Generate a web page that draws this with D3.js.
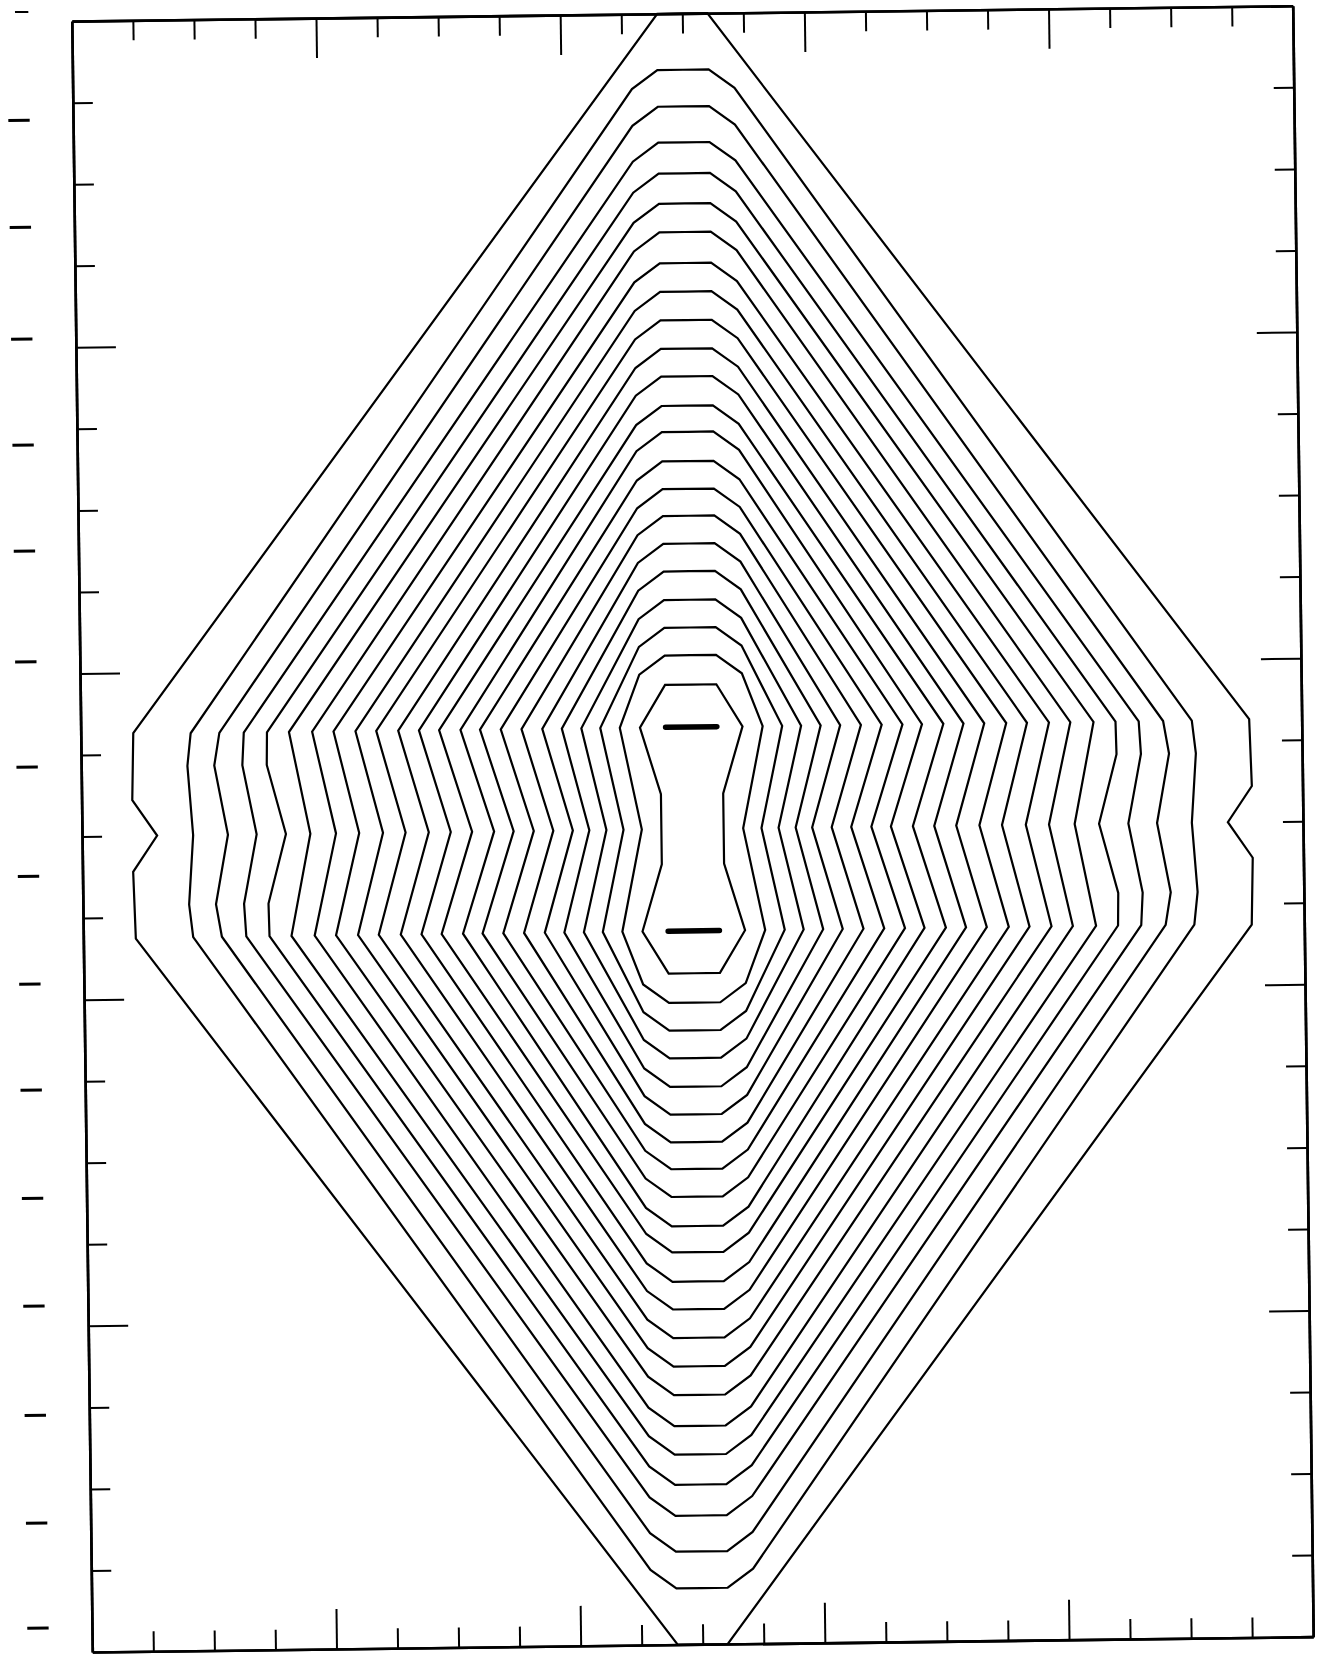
<!DOCTYPE html>
<html><head><meta charset="utf-8">
<script src="https://cdn.jsdelivr.net/npm/d3@7"></script>
<style>html,body{margin:0;padding:0;background:#fff;} svg{display:block;}</style>
</head><body>
<svg id="chart" width="1319" height="1658"></svg>
<script>
// ---- data (upper-right quadrant of each contour, tick units; plot is symmetric) ----
const contour01 = [[0,1.77],[0.42,1.77],[0.84,1.25],[0.51,0.43],[0.51,0]];
const contour02 = [[0,2.13],[0.42,2.13],[0.84,1.90],[1.17,1.25],[0.83,0]];
const contour03 = [[0,2.47],[0.42,2.47],[0.84,2.24],[1.49,1.25],[1.13,0]];
const contour04 = [[0,2.81],[0.42,2.81],[0.84,2.58],[1.80,1.25],[1.41,0]];
const contour05 = [[0,3.16],[0.42,3.16],[0.84,2.93],[2.12,1.25],[1.69,0]];
const contour06 = [[0,3.50],[0.42,3.50],[0.84,3.27],[2.44,1.25],[1.96,0]];
const contour07 = [[0,3.84],[0.42,3.84],[0.84,3.61],[2.78,1.25],[2.28,0]];
const contour08 = [[0,4.17],[0.42,4.17],[0.84,3.94],[3.12,1.25],[2.60,0]];
const contour09 = [[0,4.51],[0.42,4.51],[0.84,4.28],[3.46,1.25],[2.93,0]];
const contour10 = [[0,4.87],[0.42,4.87],[0.84,4.64],[3.78,1.25],[3.25,0]];
const contour11 = [[0,5.19],[0.42,5.19],[0.84,4.96],[4.13,1.25],[3.61,0]];
const contour12 = [[0,5.55],[0.42,5.55],[0.84,5.32],[4.46,1.25],[3.96,0]];
const contour13 = [[0,5.89],[0.42,5.89],[0.84,5.66],[4.80,1.25],[4.32,0]];
const contour14 = [[0,6.24],[0.42,6.24],[0.84,6.01],[5.16,1.25],[4.70,0]];
const contour15 = [[0,6.59],[0.42,6.59],[0.84,6.36],[5.50,1.25],[5.07,0]];
const contour16 = [[0,6.94],[0.42,6.94],[0.84,6.71],[5.86,1.25],[5.46,0]];
const contour17 = [[0,7.32],[0.42,7.32],[0.84,7.09],[6.21,1.25],[5.84,0]];
const contour18 = [[0,7.67],[0.42,7.67],[0.84,7.44],[6.59,1.25],[6.26,0]];
const contour19 = [[0,8.04],[0.42,8.04],[0.84,7.81],[6.95,1.25],[6.96,0.85],[6.66,0]];
const contour20 = [[0,8.42],[0.42,8.42],[0.84,8.19],[7.33,1.25],[7.36,0.85],[7.14,0]];
const contour21 = [[0,8.86],[0.42,8.86],[0.84,8.63],[7.73,1.25],[7.82,0.85],[7.61,0]];
const contour22 = [[0,9.31],[0.42,9.31],[0.84,9.08],[8.20,1.25],[8.26,0.85],[8.18,0]];
const contour23 = [[0,10],[0.41,10],[9.14,1.26],[9.17,0.44],[8.77,0]];
const contours = [contour01,contour02,contour03,contour04,contour05,contour06,contour07,
  contour08,contour09,contour10,contour11,contour12,contour13,contour14,contour15,
  contour16,contour17,contour18,contour19,contour20,contour21,contour22,contour23];

const barY = [1.25, -1.25];
const barX = [-0.42, 0.42];
const minorTicks = [-9,-8,-7,-5,-4,-3,-1,0,1,3,4,5,7,8,9];
const majorTicks = [-6,-2,2,6];
const marginDashY = [10.12,8.79,7.48,6.11,4.81,3.51,2.15,0.86,-0.48,-1.80,-3.10,-4.43,-5.75,-7.09,-8.41,-9.70];
const marginDashX = [-11.06,-10.71];

// ---- layout ----
const cx = 692.5, cy = 828.4, angle = -0.72;
const x = d3.scaleLinear().domain([-10,10]).range([cx-610.5, cx+610.5]);
const y = d3.scaleLinear().domain([-10,10]).range([cy+816, cy-815]);

const svg = d3.select('#chart');
svg.append('rect').attr('width',1319).attr('height',1658).attr('fill','#fff');
const g = svg.append('g').attr('transform',`rotate(${angle},${cx},${cy})`);

// axes (frame + inward ticks)
function styleAxis(sel, w){
  sel.selectAll('text').remove();
  sel.select('.domain').attr('stroke','#000').attr('stroke-width',2.6);
  sel.selectAll('.tick line').attr('stroke','#000').attr('stroke-width',w);
}
const sides = [
  {axis: d3.axisTop, scale: x, t: `translate(0,${y(10)})`},
  {axis: d3.axisBottom, scale: x, t: `translate(0,${y(-10)})`},
  {axis: d3.axisLeft, scale: y, t: `translate(${x(-10)},0)`},
  {axis: d3.axisRight, scale: y, t: `translate(${x(10)},0)`}
];
sides.forEach(s=>{
  g.append('g').attr('transform',s.t)
    .call(s.axis(s.scale).tickValues(minorTicks).tickSize(-20).tickSizeOuter(0).tickFormat(''))
    .call(sel=>styleAxis(sel,2));
  g.append('g').attr('transform',s.t)
    .call(s.axis(s.scale).tickValues(majorTicks).tickSize(-40).tickSizeOuter(0).tickFormat(''))
    .call(sel=>styleAxis(sel,2));
});

// contours: mirror each quadrant into a closed outline
function fullOutline(q){
  const ur = q;
  const lr = q.slice().reverse().map(p=>[p[0], -p[1]]);
  const ll = q.map(p=>[-p[0], -p[1]]);
  const ul = q.slice().reverse().map(p=>[-p[0], p[1]]);
  return ur.concat(lr, ll, ul);
}
const line = d3.line().x(d=>x(d[0])).y(d=>y(d[1])).curve(d3.curveLinearClosed);
g.append('g').selectAll('path').data(contours).join('path')
  .attr('d', d=>line(fullOutline(d)))
  .attr('fill','none').attr('stroke','#000').attr('stroke-width',2.2)
  .attr('stroke-linejoin','miter');

// the two short bars
g.append('g').selectAll('line').data(barY).join('line')
  .attr('x1', x(barX[0])).attr('x2', x(barX[1]))
  .attr('y1', d=>y(d)).attr('y2', d=>y(d))
  .attr('stroke','#000').attr('stroke-width',5.5).attr('stroke-linecap','round');

// marks in the left margin
g.append('g').selectAll('line').data(marginDashY).join('line')
  .attr('x1', (d,i)=> i===0 ? x(marginDashX[0])+8 : x(marginDashX[0]))
  .attr('x2', x(marginDashX[1]))
  .attr('y1', d=>y(d)).attr('y2', d=>y(d))
  .attr('stroke','#000').attr('stroke-width',(d,i)=> i===0 ? 2 : 3);
</script>
</body></html>
